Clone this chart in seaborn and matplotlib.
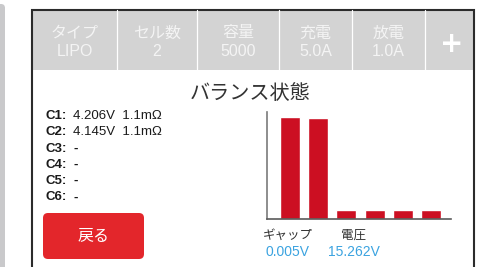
import numpy as np
import pandas as pd
import matplotlib.pyplot as plt
import seaborn as sns
from matplotlib.patches import Rectangle, FancyBboxPatch

# header fields
Headers = ["タイプ", "セル数", "容量", "充電", "放電"]
HeaderValues = ["LIPO", "2", "5000", "5.0A", "1.0A"]

# cell readings
Cells = ["C1", "C2", "C3", "C4", "C5", "C6"]
CellText = ["4.206V  1.1mΩ", "4.145V  1.1mΩ", "-", "-", "-", "-"]
# bar heights (empty cells shown as a small stub)
BarValues = [4.206, 4.145, 0.37, 0.37, 0.37, 0.37]

gap = "0.005V"
total = "15.262V"

sns.set_style("white")
plt.rcParams['font.family'] = ['Liberation Sans', 'Noto Sans CJK JP', 'DejaVu Sans']

fig = plt.figure(figsize=(4.87, 2.67), dpi=100)
bg = fig.add_axes([0, 0, 1, 1])
bg.set_xlim(0, 487)
bg.set_ylim(267, 0)
bg.axis("off")

# left strip of the device
bg.add_patch(FancyBboxPatch((-10, 4), 15, 300, boxstyle="round,pad=0,rounding_size=4",
                            fc="#c9c9cb", ec="none"))

# panel header
bg.add_patch(Rectangle((31, 9), 443, 61, fc="#d3d3d3", ec="none"))
bg.plot([31.5, 31.5, 474, 474], [267, 9.5, 9.5, 267], color="#2b2b2b", lw=1.5,
        solid_joinstyle="miter")
seps = [117, 197, 279, 352, 425]
for s in seps:
    bg.plot([s, s], [10, 70], color="white", lw=0.9)
edges = [32] + seps + [474]
for i, (h, v) in enumerate(zip(Headers, HeaderValues)):
    cx = (edges[i] + edges[i + 1]) / 2
    bg.text(cx, 33, h, ha="center", va="center", fontsize=11.5, color="#f4f4f4")
    bg.text(cx, 51, v, ha="center", va="center", fontsize=11.5, color="#f4f4f4")
bg.text((edges[5] + edges[6]) / 2 + 2, 44, "+", ha="center", va="center",
        fontsize=20, fontweight="bold", color="white", family="DejaVu Sans")

# title
bg.text(250, 93, "バランス状態", ha="center", va="center", fontsize=14.5, color="#333333")

# cell list
for i, (c, t) in enumerate(zip(Cells, CellText)):
    y = 116 + i * 16.3
    bg.text(45, y, c + ":", ha="left", va="center", fontsize=9.5, fontweight="bold",
            color="#1a1a1a")
    bg.text(73, y, t, ha="left", va="center", fontsize=9.5, color="#1a1a1a",
            fontweight="bold" if t == "-" else "normal")

# back button
bg.add_patch(FancyBboxPatch((43, 213), 101, 46, boxstyle="round,pad=0,rounding_size=5",
                            fc="#e3262b", ec="none"))
bg.text(93.5, 237, "戻る", ha="center", va="center", fontsize=11.5, color="white")

# gap / total voltage
bg.text(288, 236, "ギャップ", ha="center", va="center", fontsize=9, color="#333333")
bg.text(353, 236, "電圧", ha="center", va="center", fontsize=9, color="#333333")
bg.text(288, 252, gap, ha="center", va="center", fontsize=10, color="#3ba3e0")
bg.text(354, 252, total, ha="center", va="center", fontsize=10, color="#3ba3e0")

# balance bars
ax = fig.add_axes([267 / 487, (267 - 219) / 267, (451 - 267) / 487, (219 - 112) / 267])
df = pd.DataFrame({"cell": Cells, "v": BarValues})
sns.barplot(data=df, x="cell", y="v", color="#cc0f22", saturation=1, width=0.71, ax=ax)
ax.set_xlim(-0.82, 5.71)
ax.set_ylim(0, 4.41)
ax.set_xticks([])
ax.set_yticks([])
ax.set_xlabel("")
ax.set_ylabel("")
ax.patch.set_alpha(0)
for side in ["top", "right"]:
    ax.spines[side].set_visible(False)
ax.spines["left"].set_color("#7a7a7a")
ax.spines["bottom"].set_color("#5a5a5a")
ax.spines["left"].set_linewidth(1.2)
ax.spines["bottom"].set_linewidth(1.2)

fig.savefig("out.png", dpi=100)
